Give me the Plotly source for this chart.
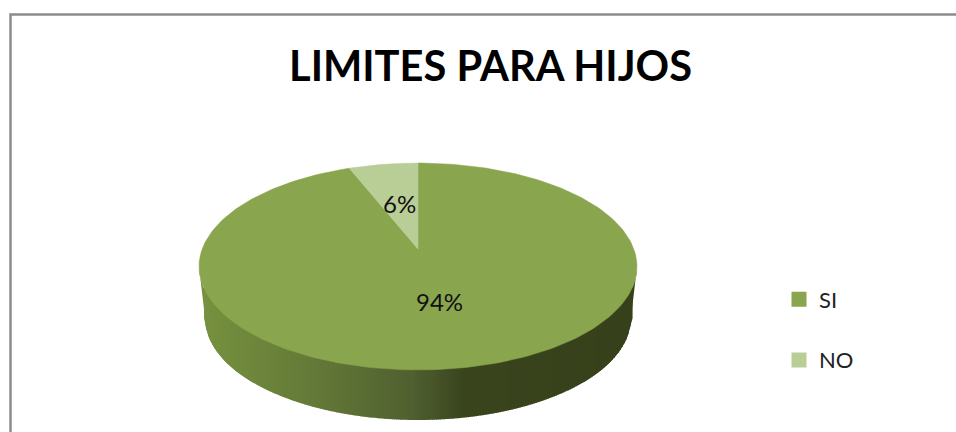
import numpy as np
import plotly.graph_objects as go

categories = ["SI", "NO"]
values = [94, 6]
slice_colors = ["#89A54E", "#B9CD96"]
percent_labels = ["94%", "6%"]
title_text = "LIMITES PARA HIJOS"

W, H = 956, 432
CX, CY = 418, 249      # projected pie centre
B, A, C = 215.8, 100.5, 0.169  # perspective projection of the unit disc
FONT = "Lato"


def project(theta):
    u, v = np.sin(theta), np.cos(theta)
    d = 1 + C * v
    return CX + B * u / d, CY - A * v / d


fig = go.Figure()

# side wall, shaded by horizontal position
rim_x = [205, 313, 413, 463, 640]
rim_r = [118, 100, 80, 58, 54]
rim_g = [145, 122, 96, 69, 65]
rim_b = [63, 56, 48, 30, 27]
E_CX, E_CY, E_RX, E_RY = 418, 266.5, 219, 103.5
L_CX, L_CY, L_RX, L_RY = 418, 318, 213, 102

# the two outer slivers between the upper and lower outlines, under the bands
for side, col in ((-1, "rgb(118,145,63)"), (1, "rgb(54,65,27)")):
    ts = np.linspace(np.pi / 2, np.pi * 0.72, 30)
    tx = E_CX + side * E_RX * np.sin(ts)
    ty = E_CY - E_RY * np.cos(ts)
    bx = L_CX + side * L_RX * np.sin(ts)
    by = L_CY - L_RY * np.cos(ts)
    fig.add_trace(go.Scatter(
        x=np.r_[tx, bx[::-1]], y=np.r_[ty, by[::-1]], mode="lines", fill="toself",
        fillcolor=col, line=dict(width=0), showlegend=False, hoverinfo="skip",
    ))

# wall is painted one thin vertical band at a time
band_edges = np.arange(198, 639, 2.0)
for x0 in band_edges:
    xs = np.array([x0, x0 + 2.6])
    if x0 + 1 < L_CX - L_RX or x0 + 1 > L_CX + L_RX:
        continue
    top = E_CY + E_RY * np.sqrt(np.clip(1 - ((xs - E_CX) / E_RX) ** 2, 0, 1)) - 3
    bot = L_CY + L_RY * np.sqrt(np.clip(1 - ((xs - L_CX) / L_RX) ** 2, 0, 1))
    mid = x0 + 1
    col = "rgb(%d,%d,%d)" % (
        np.interp(mid, rim_x, rim_r),
        np.interp(mid, rim_x, rim_g),
        np.interp(mid, rim_x, rim_b),
    )
    fig.add_trace(go.Scatter(
        x=[xs[0], xs[1], xs[1], xs[0], xs[0]], y=[top[0], top[1], bot[1], bot[0], top[0]],
        mode="lines", fill="toself", fillcolor=col, line=dict(width=0),
        showlegend=False, hoverinfo="skip",
    ))

# top face: slices start at 12 o'clock and run clockwise
fractions = np.array(values, dtype=float) / sum(values)
edges = np.r_[0, np.cumsum(fractions)] * 2 * np.pi
for i, name in enumerate(categories):
    th = np.linspace(edges[i], edges[i + 1], 240)
    px, py = project(th)
    fig.add_trace(go.Scatter(
        x=np.r_[CX, px, CX], y=np.r_[CY, py, CY], mode="lines", fill="toself",
        fillcolor=slice_colors[i], line=dict(color=slice_colors[i], width=0.5),
        showlegend=False, hoverinfo="skip",
    ))

# legend entries
for i, name in enumerate(categories):
    fig.add_trace(go.Scatter(
        x=[None], y=[None], mode="markers", name=name, legendgroup=name,
        marker=dict(symbol="square", size=15, color=slice_colors[i]),
    ))

# percent labels, placed by slice mid-angle
mids = (edges[:-1] + edges[1:]) / 2
label_radius = [0.49, 0.50]
for i, lab in enumerate(percent_labels):
    u, v = np.sin(mids[i]) * label_radius[i], np.cos(mids[i]) * label_radius[i]
    d = 1 + C * v
    fig.add_annotation(x=CX + B * u / d, y=CY - A * v / d, text=lab, showarrow=False,
                       font=dict(family=FONT, size=24, color="#111111"))

fig.update_layout(
    width=W, height=H, margin=dict(l=0, r=0, t=0, b=0),
    paper_bgcolor="white", plot_bgcolor="white",
    xaxis=dict(range=[0, W], visible=False, fixedrange=True),
    yaxis=dict(range=[H, 0], visible=False, fixedrange=True),
    title=dict(text="<b>%s</b>" % title_text, x=490.5 / W, xanchor="center", y=1 - 66 / H, yanchor="middle",
               font=dict(family=FONT, size=41.6, color="#000000")),
    legend=dict(x=779 / W, y=1 - 278.5 / H, xanchor="left", yanchor="top",
                font=dict(family=FONT, size=22, color="#222222"),
                tracegroupgap=29, itemwidth=30, bgcolor="rgba(0,0,0,0)"),
    shapes=[dict(type="rect", xref="x", yref="y", x0=10.5, y0=14.5, x1=W + 5, y1=H + 5,
                 line=dict(color="#8C8C8C", width=2.5), layer="below")],
)
fig.write_html("out.html", config=dict(displayModeBar=False),
               post_script="document.body.style.margin='0';document.documentElement.style.overflow='hidden';")
